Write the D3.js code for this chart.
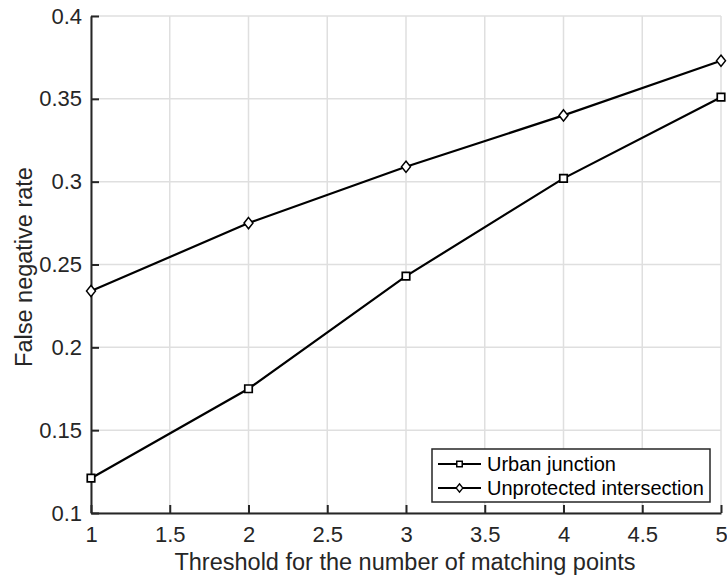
<!DOCTYPE html>
<html><head><meta charset="utf-8">
<script src="https://cdn.jsdelivr.net/npm/d3@7"></script>
<style>body{margin:0;background:#fff;} svg{display:block;font-family:"Liberation Sans",Arial,Helvetica,sans-serif;}</style>
</head><body>
<svg id="c" width="727" height="579"></svg>
<script>
const xValues = [1, 2, 3, 4, 5];
const urbanJunction = [0.121, 0.175, 0.243, 0.302, 0.351];
const unprotectedIntersection = [0.234, 0.275, 0.309, 0.340, 0.373];
const xTicks = [1, 1.5, 2, 2.5, 3, 3.5, 4, 4.5, 5];
const yTicks = [0.1, 0.15, 0.2, 0.25, 0.3, 0.35, 0.4];
const seriesNames = ["Urban junction", "Unprotected intersection"];
const xLabel = "Threshold for the number of matching points";
const yLabel = "False negative rate";

const svg = d3.select("#c");
const L = 91, R = 721, T = 16, B = 513;
const x = d3.scaleLinear().domain([1, 5]).range([L, R]);
const y = d3.scaleLinear().domain([0.1, 0.4]).range([B, T]);
const axisColor = "#262626";

// grid
const g = svg.append("g");
g.selectAll(".gx").data(xTicks).enter().append("line")
  .attr("x1", d => x(d)).attr("x2", d => x(d)).attr("y1", T).attr("y2", B)
  .attr("stroke", "#dfdfdf").attr("stroke-width", 1.5);
g.selectAll(".gy").data(yTicks).enter().append("line")
  .attr("x1", L).attr("x2", R).attr("y1", d => y(d)).attr("y2", d => y(d))
  .attr("stroke", "#dfdfdf").attr("stroke-width", 1.5);

// axes
const fmt = d => String(+d.toFixed(2));
const xAxis = svg.append("g").attr("transform", `translate(0,${B})`)
  .call(d3.axisBottom(x).tickValues(xTicks).tickFormat(fmt).tickSizeInner(-8).tickSizeOuter(0).tickPadding(13));
const yAxis = svg.append("g").attr("transform", `translate(${L},0)`)
  .call(d3.axisLeft(y).tickValues(yTicks).tickFormat(fmt).tickSizeInner(-8).tickSizeOuter(0).tickPadding(9));
[xAxis, yAxis].forEach(a => {
  a.select(".domain").attr("stroke", axisColor).attr("stroke-width", 2);
  a.selectAll(".tick line").attr("stroke", axisColor).attr("stroke-width", 2);
  a.selectAll("text").attr("fill", "#262626").style("font-size", "22px").style("font-family", "'Liberation Sans',Arial,sans-serif");
});

// labels
svg.append("text").attr("x", 405).attr("y", 570).attr("text-anchor", "middle")
  .attr("fill", "#262626").style("font-size", "23.5px").text(xLabel);
svg.append("text").attr("transform", `translate(32,267) rotate(-90)`).attr("text-anchor", "middle")
  .attr("fill", "#262626").style("font-size", "23.5px").text(yLabel);

// lines
const line = d3.line().x((d, i) => x(xValues[i])).y(d => y(d));
const series = [urbanJunction, unprotectedIntersection];
series.forEach(s => {
  svg.append("path").datum(s).attr("d", line).attr("fill", "none").attr("stroke", "#000").attr("stroke-width", 2.2);
});
const sq = d3.symbol().type(d3.symbolSquare).size(56);
const dm = d3.symbol().type(d3.symbolDiamond2).size(80);
svg.selectAll(".m1").data(urbanJunction).enter().append("path")
  .attr("d", sq).attr("transform", (d, i) => `translate(${x(xValues[i])},${y(d)})`)
  .attr("fill", "#fff").attr("stroke", "#000").attr("stroke-width", 1.7);
svg.selectAll(".m2").data(unprotectedIntersection).enter().append("path")
  .attr("d", dm).attr("transform", (d, i) => `translate(${x(xValues[i])},${y(d)}) scale(0.8,1)`)
  .attr("fill", "#fff").attr("stroke", "#000").attr("stroke-width", 1.7);

// legend
const lg = svg.append("g");
lg.append("rect").attr("x", 432).attr("y", 449).attr("width", 278).attr("height", 53)
  .attr("fill", "#fff").attr("stroke", "#262626").attr("stroke-width", 1.5);
const rows = [464, 488];
seriesNames.forEach((n, i) => {
  lg.append("line").attr("x1", 438).attr("x2", 481).attr("y1", rows[i]).attr("y2", rows[i])
    .attr("stroke", "#000").attr("stroke-width", 2);
  lg.append("path").attr("d", i === 0 ? d3.symbol().type(d3.symbolSquare).size(30)() : d3.symbol().type(d3.symbolDiamond2).size(44)())
    .attr("transform", `translate(459.5,${rows[i]})` + (i === 1 ? " scale(0.8,1)" : "")).attr("fill", "#fff").attr("stroke", "#000").attr("stroke-width", 1.5);
  lg.append("text").attr("x", 487).attr("y", rows[i] + 7).attr("fill", "#000")
    .style("font-size", "20px").text(n);
});
</script>
</body></html>
